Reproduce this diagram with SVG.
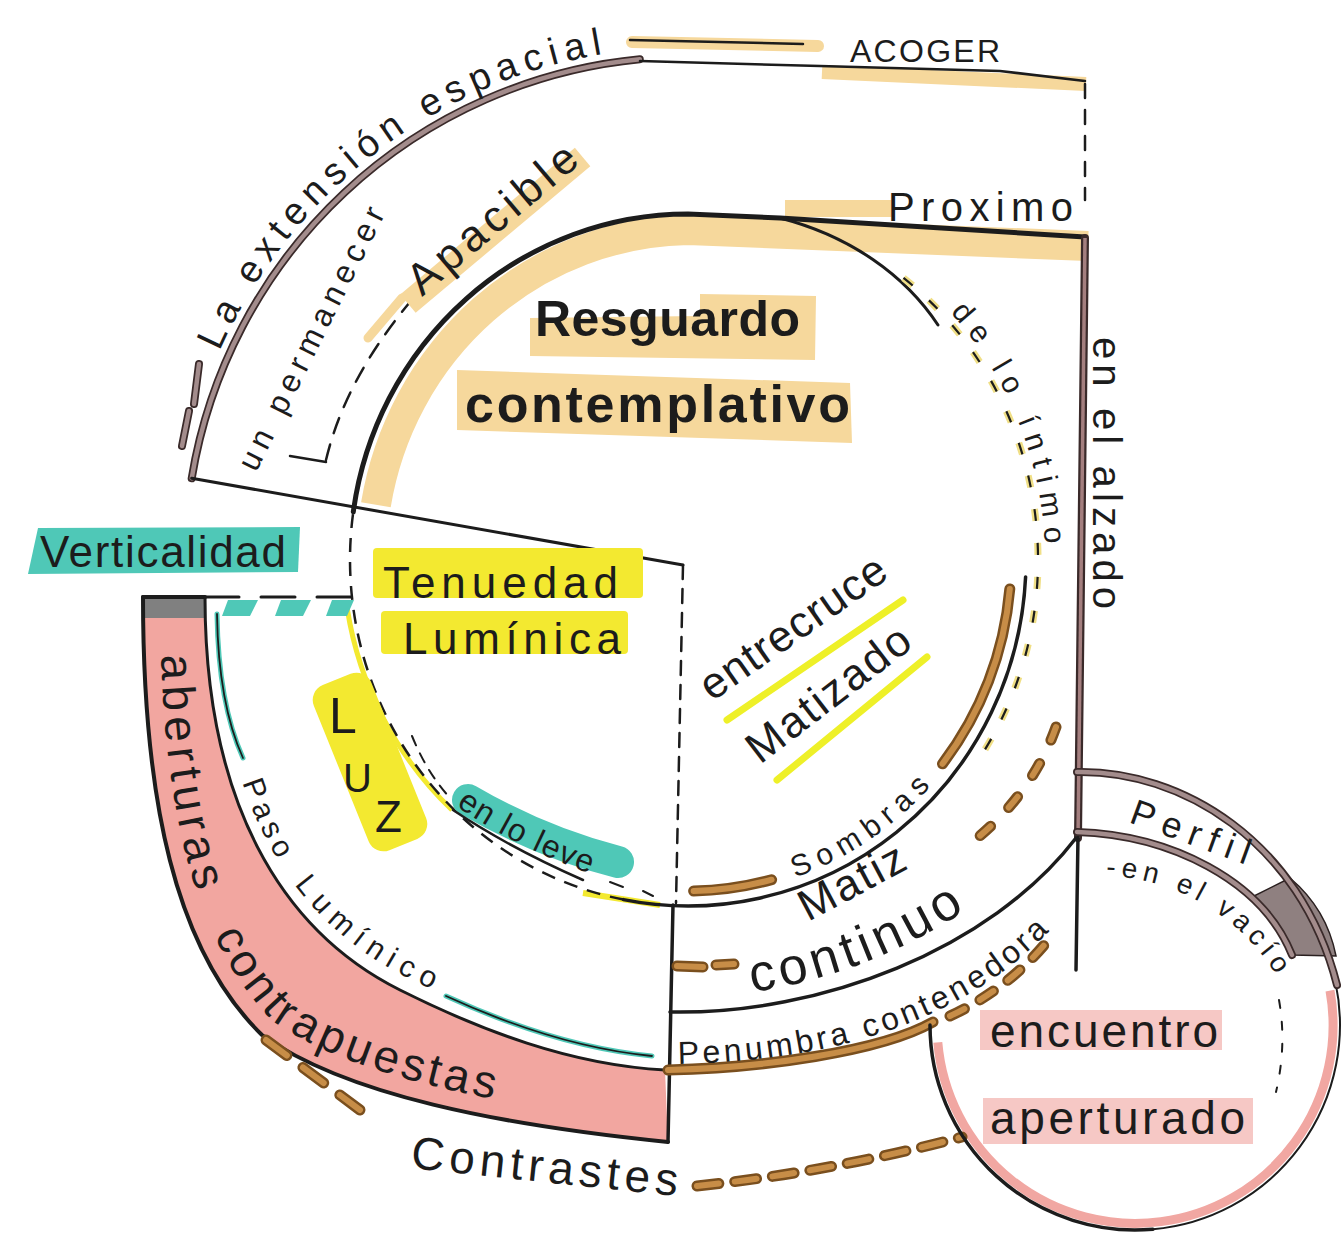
<svg xmlns="http://www.w3.org/2000/svg" width="1342" height="1235" viewBox="0 0 1342 1235">
<defs>
<style>
text{font-family:"Liberation Sans",Arial,sans-serif;fill:#1c1c1c}
.b{font-weight:bold}
.ln{fill:none;stroke:#1c1c1c;stroke-linecap:round;stroke-linejoin:round}
.dsh{fill:none;stroke:#1c1c1c;stroke-width:2.5;stroke-dasharray:14 10}
.hO{fill:#f6d89c}
.hY{fill:#f3e930}
.hT{fill:#4fc8b7}
.hP{fill:#f6c8c5}
.bo{fill:none;stroke:#7a4f1e;stroke-linecap:round;stroke-width:11}
.bi{fill:none;stroke:#c78d47;stroke-linecap:round;stroke-width:6}
.gr{fill:none;stroke:#3a2a2a;stroke-width:8;stroke-linecap:round}
.gi{fill:none;stroke:#a38c8c;stroke-width:4.5;stroke-linecap:round}
</style>
<path id="pExt" d="M219.4,351.3 A513,513 0 0 1 616.6,52"/>
<path id="pInt" d="M944.8,306.4 A357,365 0 0 1 1044.5,579.1"/>
<path id="pSom" d="M783.9,881.3 A328,336 0 0 0 939.3,776"/>
<path id="pBand" d="M160,597 C160,795 190,940 274,1022 C355,1078 505,1107 668,1124"/>
<path id="pPaso" d="M216,600 C216,800 290,920 408,978 C490,1018 575,1050 665,1057"/>
<path id="pLeve" d="M456,806 Q520,850 602,878"/>
<path id="pCont" d="M752,992 Q870,975 974,905"/>
<path id="pPen" d="M678,1064 Q930,1060 1055,925"/>
<path id="pVac" d="M1106,876 C1180,878 1250,920 1288,996"/>
</defs>
<rect width="1342" height="1235" fill="#ffffff"/>

<g id="backgrounds">
<path d="M375.9,504.7 A322,330 0 0 1 688,230 L1088,246" fill="none" stroke="#f6d89c" stroke-width="30"/>
<rect x="785" y="200" width="108" height="17" class="hO"/>
<path d="M822,72 L1086,84" stroke="#f6d89c" stroke-width="14" fill="none"/>
<path d="M632,42 L818,46" stroke="#f6d89c" stroke-width="12" fill="none" stroke-linecap="round"/>
<path d="M143,597 C143,800 175,950 262,1035 C345,1095 500,1125 668,1142 L665,1070 C570,1065 480,1030 400,990 C280,930 205,800 205,597 Z" fill="#f2a6a0"/>
<rect x="145" y="599" width="60" height="19" fill="#808080"/>
<path d="M452,810 A344,352 0 0 1 347.3,609" fill="none" stroke="#f3e930" stroke-width="5"/>
<path d="M660,905 L583,893" fill="none" stroke="#f3e930" stroke-width="6"/>
<path d="M937.8,1042.3 A198,198 0 1 0 1330,990.6" fill="none" stroke="#f1a7a2" stroke-width="9"/>
</g>

<g id="connectors">
<path d="M191.7,478.3 A503,503 0 0 1 639.8,59.3" class="gr"/>
<path d="M191.7,478.3 A503,503 0 0 1 639.8,59.3" class="gi"/>
<path d="M199,364 L194,404 M189,411 L182,446" class="gr"/>
<path d="M199,364 L194,404 M189,411 L182,446" class="gi"/>
<path d="M191.7,478.3 L683,565" class="ln" stroke-width="3"/>
<path d="M640,61 L820,66 L1000,71 L1085,81" class="ln" stroke-width="2.5"/>
<path d="M630,40 L803,44" class="ln" stroke-width="2.5"/>
<path d="M1085,84 L1085,200" class="ln" stroke-width="2.5" stroke-dasharray="14 12"/>
<path d="M353.3,511.8 A338,346 0 0 1 688,214 L780,218 L1085,237" class="ln" stroke-width="5"/>
<path d="M780,218 C850,236 905,275 938,325" class="ln" stroke-width="3"/>
<path d="M1025.6,576.9 A338,346 0 0 1 623.5,899.6" class="ln" stroke-width="3.5"/>
<path d="M623.5,899.6 A338,346 0 0 1 353.3,511.8" class="dsh"/>
<path d="M903.5,277.9 A350,358 0 0 1 974.7,765.4" fill="none" stroke="#f0df86" stroke-width="7" stroke-dasharray="12 22"/>
<path d="M903.5,277.9 A350,358 0 0 1 974.7,765.4" fill="none" stroke="#1c1c1c" stroke-width="2.2" stroke-dasharray="12 22"/>
<path d="M1085,238 L1078,838" class="gr" stroke-width="7"/>
<path d="M1085,238 L1078,838" stroke="#a47f7f" stroke-width="3.5" fill="none"/>
<path d="M1078,836 L1076,970" class="ln" stroke-width="3.5"/>
<path d="M683,565 L676,903" class="ln" stroke-width="2.5" stroke-dasharray="14 10"/>
<path d="M673,905 L668,1142" class="ln" stroke-width="3.5"/>
<path d="M143,597 C143,800 175,950 262,1035 C345,1095 500,1125 668,1142" class="ln" stroke-width="4"/>
<path d="M205,597 C205,800 280,930 400,990 C480,1030 570,1065 665,1070" class="ln" stroke-width="3"/>
<path d="M143,597 L205,597" class="ln" stroke-width="4"/>
<path d="M205,597 L355,597" class="ln" stroke-width="3" stroke-dasharray="34 22"/>
<path d="M228,600 L258,600 L250,616 L222,616 Z M281,600 L311,600 L303,616 L275,616 Z M332,600 L354,600 L347,616 L326,616 Z" class="hT"/>
<path d="M217,614 C218,680 228,725 243,758" fill="none" stroke="#4fc8b7" stroke-width="5" stroke-linecap="round"/>
<path d="M217,614 C218,680 228,725 243,758" class="ln" stroke-width="1.8"/>
<path d="M446,996 C520,1030 590,1050 652,1056" fill="none" stroke="#4fc8b7" stroke-width="5" stroke-linecap="round"/>
<path d="M446,996 C520,1030 590,1050 652,1056" class="ln" stroke-width="1.8"/>
<path d="M368,338 L402,298" stroke="#f6d89c" stroke-width="9" fill="none" stroke-linecap="round"/>
<path d="M290,456 L326,462" class="ln" stroke-width="2.5"/>
<path d="M326,460 Q345,380 410,302" class="ln" stroke-width="2.5" stroke-dasharray="16 12"/>
<path d="M412,736 Q428,775 452,800" class="ln" stroke-width="2" stroke-dasharray="10 9"/>
<path d="M610,882 L623,887 M643,891 L653,896" class="ln" stroke-width="2"/>
<path d="M670,1012 C820,1015 990,950 1076,838" class="ln" stroke-width="3.5"/>
<path d="M1009.8,588.9 A323,331 0 0 1 942.5,763.8" class="bo"/>
<path d="M1009.8,588.9 A323,331 0 0 1 942.5,763.8" class="bi"/>
<path d="M771.6,879.7 A323,331 0 0 1 693.6,891" class="bo"/>
<path d="M771.6,879.7 A323,331 0 0 1 693.6,891" class="bi"/>
<path d="M668,1070 C760,1068 880,1052 933,1022" class="bo" stroke-width="8"/>
<path d="M668,1070 C760,1068 880,1052 933,1022" class="bi" stroke-width="4"/>
<path d="M1056,727 Q1030,800 962,850" class="bo" stroke-dasharray="14 26"/>
<path d="M1056,727 Q1030,800 962,850" class="bi" stroke-dasharray="14 26"/>
<path d="M677,966 L703,967 M716,965 L734,964" class="bo"/>
<path d="M677,966 L703,967 M716,965 L734,964" class="bi"/>
<path d="M950,1016 Q1010,988 1050,938" class="bo" stroke-dasharray="16 18"/>
<path d="M950,1016 Q1010,988 1050,938" class="bi" stroke-dasharray="16 18"/>
<path d="M697,1186 Q830,1172 962,1137" class="bo" stroke-dasharray="22 16"/>
<path d="M697,1186 Q830,1172 962,1137" class="bi" stroke-dasharray="22 16"/>
<path d="M266,1040 L360,1110" class="bo" stroke-dasharray="26 20"/>
<path d="M266,1040 L360,1110" class="bi" stroke-dasharray="26 20"/>
<path d="M930,1025 A205,205 0 0 0 1152.9,1229.2" class="ln" stroke-width="3.5"/>
<path d="M1152.9,1229.2 A205,205 0 0 0 1335.5,982.4" class="ln" stroke="#4a3434" stroke-width="2"/>
<path d="M1250,898 C1272,918 1286,937 1292,955 L1336,956 C1330,925 1316,900 1290,878 Z" fill="#8f8080" stroke="#2a2020" stroke-width="1.5"/>
<path d="M1077,772 C1180,770 1300,840 1337,985" class="gr"/>
<path d="M1077,772 C1180,770 1300,840 1337,985" class="gi"/>
<path d="M1077,832 C1170,835 1262,880 1292,955" class="gr" stroke-width="6"/>
<path d="M1077,832 C1170,835 1262,880 1292,955" class="gi" stroke-width="3"/>
<path d="M1279,1000 Q1287,1045 1276,1092" class="ln" stroke="#444" stroke-width="2" stroke-dasharray="8 14"/>
</g>

<g id="n-extension"><text font-size="38"><textPath href="#pExt" textLength="505" lengthAdjust="spacing">La extensión espacial</textPath></text></g>
<g id="n-acoger"><text x="850" y="62" font-size="32" textLength="150" lengthAdjust="spacing">ACOGER</text></g>
<g id="n-proximo"><text x="888" y="221" font-size="40" textLength="185" lengthAdjust="spacing">Proximo</text></g>
<g id="n-permanecer"><text transform="translate(256,473) rotate(-63.5)" font-size="32" textLength="290" lengthAdjust="spacing">un permanecer</text></g>
<g id="n-apacible">
<rect x="-15" y="-16" width="228" height="24" class="hO" transform="translate(422,297) rotate(-40)"/>
<text transform="translate(422,297) rotate(-40)" font-size="44" textLength="208" lengthAdjust="spacing">Apacible</text>
</g>
<g id="n-resguardo">
<path d="M530,318 L700,316 L700,294 L816,296 L815,360 L530,356 Z" class="hO"/>
<path d="M457,370 L850,383 L852,443 L457,430 Z" class="hO"/>
<text x="535" y="336" font-size="50" class="b" textLength="265" lengthAdjust="spacing">Resguardo</text>
<text x="465" y="422" font-size="52" class="b" textLength="385" lengthAdjust="spacing">contemplativo</text>
</g>
<g id="n-intimo"><text font-size="30"><textPath href="#pInt" startOffset="8" textLength="255" lengthAdjust="spacing">de lo íntimo</textPath></text></g>
<g id="n-alzado"><text transform="translate(1093,337) rotate(90)" font-size="40" textLength="272" lengthAdjust="spacing">en el alzado</text></g>
<g id="n-verticalidad">
<path d="M38,528 L300,527 L298,572 L28,574 Z" class="hT"/>
<text x="40" y="567" font-size="44" textLength="246" lengthAdjust="spacing">Verticalidad</text>
</g>
<g id="n-tenuedad">
<rect x="373" y="548" width="270" height="50" rx="4" class="hY"/>
<rect x="381" y="611" width="247" height="43" rx="4" class="hY"/>
<text x="383" y="598" font-size="44" textLength="235" lengthAdjust="spacing">Tenuedad</text>
<text x="403" y="654" font-size="44" textLength="218" lengthAdjust="spacing">Lumínica</text>
</g>
<g id="n-luz">
<rect x="-31" y="-89" width="62" height="178" rx="16" class="hY" transform="translate(370,762) rotate(-22)"/>
<text x="329" y="733" font-size="50">L</text>
<text x="343" y="792" font-size="40">U</text>
<text x="375" y="832" font-size="44">Z</text>
</g>
<g id="n-leve">
<path d="M468,800 Q540,842 618,862" fill="none" stroke="#4fc8b7" stroke-width="32" stroke-linecap="round"/>
<path d="M453,810 Q510,848 583,880" class="ln" stroke-width="2.5"/>
<text font-size="32"><textPath href="#pLeve" textLength="150" lengthAdjust="spacing">en lo leve</textPath></text>
</g>
<g id="n-entrecruce">
<path d="M727,720 L903,600 M777,780 L927,657" stroke="#eef028" stroke-width="7" stroke-linecap="round" fill="none"/>
<text transform="translate(712,702) rotate(-35)" font-size="44" textLength="218" lengthAdjust="spacing">entrecruce</text>
<text transform="translate(760,765) rotate(-37.5)" font-size="44" textLength="195" lengthAdjust="spacing">Matizado</text>
</g>
<g id="n-sombras"><text font-size="30"><textPath href="#pSom" startOffset="12" textLength="165" lengthAdjust="spacing">Sombras</textPath></text></g>
<g id="n-matiz">
<text transform="translate(808,922) rotate(-28)" font-size="44" textLength="115" lengthAdjust="spacing">Matiz</text>
<text font-size="52"><textPath href="#pCont" textLength="230" lengthAdjust="spacing">continuo</textPath></text>
</g>
<g id="n-penumbra"><text font-size="32"><textPath href="#pPen" textLength="405" lengthAdjust="spacing">Penumbra contenedora</textPath></text></g>
<g id="n-perfil">
<text transform="translate(1128,822) rotate(20)" font-size="36" textLength="125" lengthAdjust="spacing">Perfil</text>
<text font-size="28"><textPath href="#pVac" textLength="205" lengthAdjust="spacing">-en el vacío</textPath></text>
</g>
<g id="n-encuentro">
<rect x="980" y="1010" width="242" height="40" class="hP"/>
<rect x="983" y="1098" width="270" height="46" class="hP"/>
<text x="990" y="1047" font-size="46" textLength="228" lengthAdjust="spacing">encuentro</text>
<text x="990" y="1134" font-size="46" textLength="255" lengthAdjust="spacing">aperturado</text>
</g>
<g id="n-aberturas">
<text font-size="46"><textPath href="#pBand" startOffset="58" textLength="240" lengthAdjust="spacing">aberturas</textPath></text>
<text font-size="46"><textPath href="#pBand" startOffset="345" textLength="340" lengthAdjust="spacing">contrapuestas</textPath></text>
</g>
<g id="n-paso">
<text font-size="30"><textPath href="#pPaso" startOffset="185" textLength="85" lengthAdjust="spacing">Paso</textPath></text>
<text font-size="30"><textPath href="#pPaso" startOffset="300" textLength="175" lengthAdjust="spacing">Lumínico</textPath></text>
</g>
<g id="n-contrastes"><text transform="translate(410,1168) rotate(6)" font-size="46" textLength="268" lengthAdjust="spacing">Contrastes</text></g>
</svg>
